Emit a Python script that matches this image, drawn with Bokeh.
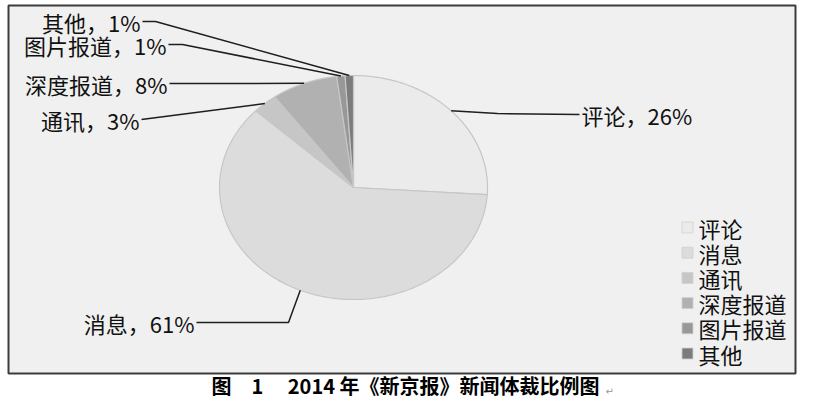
import numpy as np
from bokeh.plotting import figure
from bokeh.models import Range1d, ColumnDataSource
from bokeh.core.properties import value
from bokeh.embed import file_html
from bokeh.resources import INLINE

# ---- data ----
categories = ["评论", "消息", "通讯", "深度报道", "图片报道", "其他"]
shares = [26, 61, 3, 8, 1, 1]
colors = ["#ebebeb", "#dcdcdc", "#c6c6c6", "#b1b1b1", "#989898", "#7c7c7c"]
caption = "图\u30001\u3000\u00a02014\u00a0年《新京报》新闻体裁比例图"

# ---- layout (screen-pixel style coordinates) ----
CX, CY, RX, RY = 353, 187, 134, 112
FONT = "Noto Sans CJK SC"
label_xy = [(581, 114), (194, 322), (139, 119), (167, 83), (166, 44), (140, 21)]
elbow_xy = [(497, 113), (288, 322), None, None, (182, 44), (155, 21)]
label_align = ["left", "right", "right", "right", "right", "right"]

p = figure(width=797, height=401, output_backend="svg", toolbar_location=None,
           x_range=Range1d(0, 797), y_range=Range1d(401, 0),
           x_axis_location=None, y_axis_location=None, min_border=0)
p.grid.visible = False
p.outline_line_color = None
p.background_fill_color = "#ffffff"
p.border_fill_color = "#ffffff"

# chart frame
p.quad(left=[8], right=[795], top=[5], bottom=[373], fill_color="#f0f0f0",
       line_color="#3c3c3c", line_width=2)

# pie slices (elliptical)
total = float(sum(shares))
xs, ys, mids = [], [], []
cum = 0.0
for s in shares:
    a0 = np.pi / 2 - 2 * np.pi * cum / total
    a1 = np.pi / 2 - 2 * np.pi * (cum + s) / total
    t = np.linspace(a0, a1, max(4, int(abs(a1 - a0) * 60)))
    xs.append([CX] + list(CX + RX * np.cos(t)) + [CX])
    ys.append([CY] + list(CY - RY * np.sin(t)) + [CY])
    mids.append((a0 + a1) / 2)
    cum += s
p.patches(xs, ys, fill_color=colors, line_color="#c6c6c6", line_width=1.2)

# leader lines
for i, m in enumerate(mids):
    ex, ey = CX + RX * np.cos(m), CY - RY * np.sin(m)
    lx, ly = label_xy[i]
    px_, py_ = [ex], [ey]
    if elbow_xy[i] is not None:
        px_.append(elbow_xy[i][0]); py_.append(elbow_xy[i][1])
    px_.append(lx + (-2 if label_align[i] == "left" else 2)); py_.append(ly)
    p.line(px_, py_, line_color="#1e1e1e", line_width=1.5)

# data labels
lab_src = ColumnDataSource(dict(
    x=[a for a, b in label_xy], y=[b for a, b in label_xy],
    text=[f"{c}，{v}%" for c, v in zip(categories, shares)],
    align=label_align))
p.text(x="x", y="y", text="text", source=lab_src, text_align="align",
       text_baseline="middle", text_font=value(FONT), text_font_size="22px",
       text_color="#111111")

# legend (manual)
leg_y = [227 + 25.2 * i for i in range(len(categories))]
p.rect(x=[687] * len(categories), y=leg_y, width=11, height=11,
       fill_color=colors, line_color="#cfcfcf", line_width=0.8)
p.text(x=[698] * len(categories), y=leg_y, text=categories, text_baseline="middle",
       text_font=value(FONT), text_font_size="22px", text_color="#111111")

# caption
p.text(x=[405], y=[385], text=[caption], text_align="center", text_baseline="middle",
       text_font=value(FONT), text_font_size="20px", text_font_style="bold",
       text_color="#000000")
p.text(x=[605], y=[391], text=["↵"], text_baseline="middle",
       text_font=value("DejaVu Sans"), text_font_size="10px", text_color="#999999")

open("out.html", "w").write(file_html(p, INLINE))
